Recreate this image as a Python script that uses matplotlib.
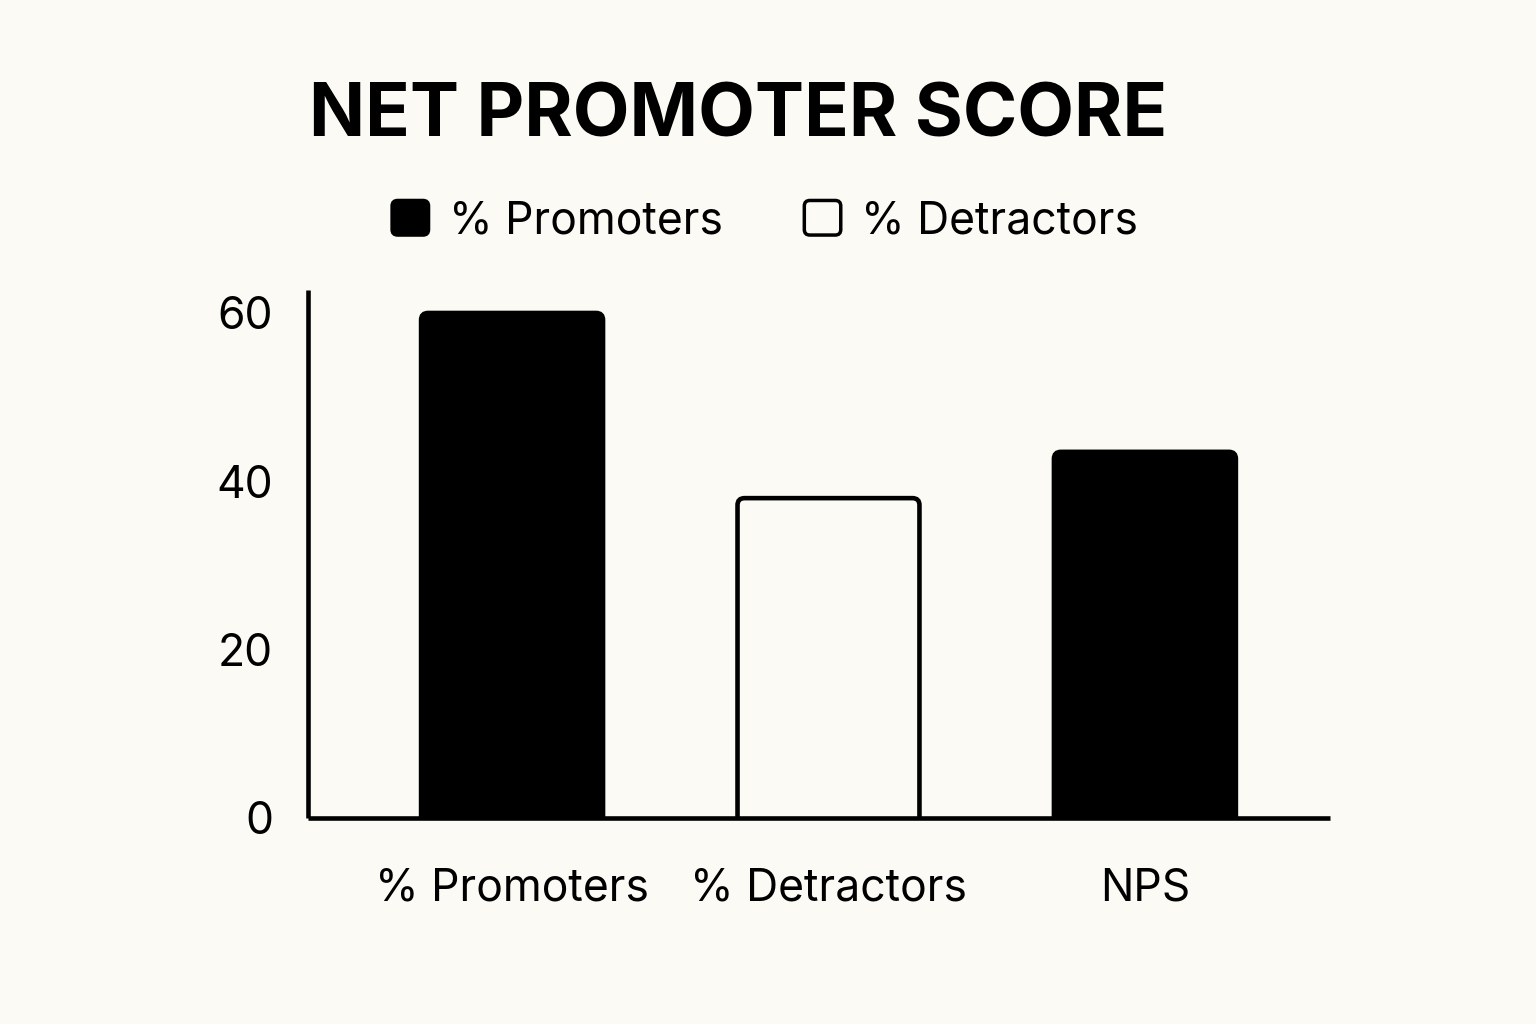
import matplotlib
matplotlib.use("Agg")
import matplotlib.pyplot as plt
from matplotlib.patches import FancyBboxPatch, Patch
from matplotlib.legend_handler import HandlerPatch

categories = ["% Promoters", "% Detractors", "NPS"]
values = [60, 38, 43.5]
fills = ["black", "#fbfaf5", "black"]
title = "NET PROMOTER SCORE"
yticks = [0, 20, 40, 60]
legend_labels = ["% Promoters", "% Detractors"]

bg = "#fbfaf5"
plt.rcParams["font.family"] = ["Inter", "DejaVu Sans"]


class RoundHandler(HandlerPatch):
    # legend squares with softened corners, like the bars
    def create_artists(self, legend, orig_handle, xdescent, ydescent,
                       width, height, fontsize, trans):
        p = FancyBboxPatch((-xdescent, -ydescent), width, height,
                           boxstyle="round,pad=0,rounding_size=4")
        self.update_prop(p, orig_handle, legend)
        p.set_transform(trans)
        return [p]


fig = plt.figure(figsize=(15.36, 10.24), dpi=100, facecolor=bg)
ax = fig.add_axes([0.2005, 0.2012, 0.6654, 0.5156], facecolor=bg)

x = list(range(len(categories)))
width = 0.575
bars = ax.bar(x, values, width=width, color=fills, edgecolor="black", linewidth=3.3)

# swap plain bars for ones with rounded top corners
px_x = 316.5  # px per x unit
px_y = 8.417  # px per y unit
for b in bars:
    b.set_visible(False)
    rp = FancyBboxPatch((b.get_x(), -2), b.get_width(), b.get_height() + 2,
                        boxstyle="round,pad=0,rounding_size=%f" % (7 / px_x),
                        mutation_aspect=px_x / px_y,
                        facecolor=b.get_facecolor(), edgecolor="black",
                        linewidth=3.3, clip_on=True)
    ax.add_patch(rp)

ax.set_xlim(-0.645, 2.585)
ax.set_ylim(0, 62.73)
ax.set_yticks(yticks)
ax.set_xticks(x)
ax.set_xticklabels(categories)
ax.tick_params(axis="both", length=0, labelsize=32)
ax.tick_params(axis="y", pad=25)
ax.tick_params(axis="x", pad=36)

for s in ["top", "right"]:
    ax.spines[s].set_visible(False)
for s in ["left", "bottom"]:
    ax.spines[s].set_linewidth(3.3)
    ax.spines[s].set_capstyle("butt")

fig.text(0.4805, 0.886, title, ha="center", va="center",
         fontsize=53, fontweight="bold", color="black")

handles = [Patch(facecolor="black", edgecolor="black", linewidth=2.5),
           Patch(facecolor=bg, edgecolor="black", linewidth=2.5)]
fig.legend(handles, legend_labels, loc="center",
           bbox_to_anchor=(0.498, 0.784), ncol=2, frameon=False,
           fontsize=32, handlelength=0.82, handleheight=0.82,
           handletextpad=0.45, columnspacing=1.84,
           handler_map={Patch: RoundHandler()})

fig.savefig("out.png", dpi=100, facecolor=bg)
